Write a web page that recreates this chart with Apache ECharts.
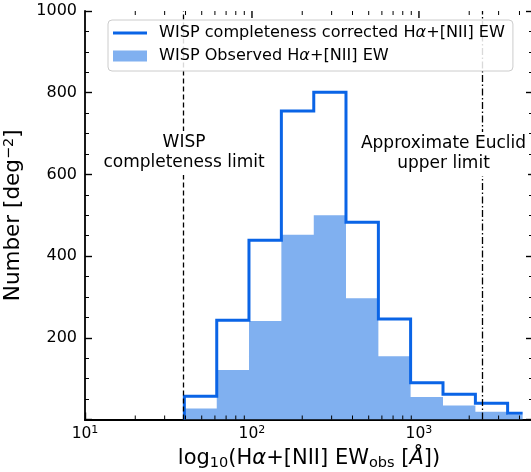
<!DOCTYPE html>
<html>
<head>
<meta charset="utf-8">
<script src="https://cdn.jsdelivr.net/npm/echarts@6/dist/echarts.min.js"></script>
<style>
  html, body { margin: 0; padding: 0; background: #fff; }
  #chart { width: 531px; height: 472px; }
</style>
</head>
<body>
<div id="chart"></div>
<script>
// ---- data (x in log10 of EW [Å]) ----
const LOG_EDGES = [1.595, 1.789, 1.982, 2.176, 2.370, 2.563, 2.757, 2.950, 3.144, 3.338, 3.531];
const LOG_END = 3.621;
const CORRECTED = [57, 243, 439, 755, 801, 483, 246, 90, 62, 40, 15];
const OBSERVED = [27, 121, 241, 452, 500, 297, 155, 55, 34, 19, 11];
const COMPLETENESS_LIMIT = 1.595;
const EUCLID_LIMIT = 3.375;
const X_MAJOR = [1, 2, 3];
const X_MIN = 1, X_MAX = 3.683;
const Y_MIN = 0, Y_MAX = 1000;
const X_MINOR = [1.301, 1.477, 1.602, 1.699, 1.778, 1.845, 1.903, 1.954,
                 2.301, 2.477, 2.602, 2.699, 2.778, 2.845, 2.903, 2.954,
                 3.301, 3.477, 3.602];
const NAME_CORR = 'WISP completeness corrected Hα+[NII] EW';
const NAME_OBS = 'WISP Observed Hα+[NII] EW';

const FONT = 'DejaVu Sans';

function stepData(vals) {
  const pts = [[LOG_EDGES[0], 0]];
  vals.forEach(function (v, i) { pts.push([LOG_EDGES[i], v]); });
  pts.push([LOG_END, vals[vals.length - 1]]);
  return pts;
}

// inward tick marks on the horizontal spines, placed through the axis scale
function tickMarks(values, yVal, len, width, inwardUp) {
  return values.map(function (v) {
    return {
      coord: [v, yVal], symbol: 'rect', symbolSize: [width, len],
      symbolOffset: [0, inwardUp ? -len / 2 : len / 2],
      itemStyle: { color: '#000' }, label: { show: false }
    };
  });
}

const chart = echarts.init(document.getElementById('chart'), null, { renderer: 'canvas' });

function yAxisDef(pos, labels) {
  const ax = {
    type: 'value', min: Y_MIN, max: Y_MAX, interval: 200, position: pos, gridIndex: 0,
    axisLine: { show: true, lineStyle: { color: '#000', width: 1.8 } },
    axisTick: { show: true, inside: true, length: 7, lineStyle: { color: '#000', width: 1.4 } },
    minorTick: { show: true, splitNumber: 4, length: 4, lineStyle: { color: '#000', width: 1 } },
    axisLabel: { show: labels, margin: 8, fontFamily: FONT, fontSize: 16, color: '#000',
      formatter: function (v) { return v === 0 ? '' : String(v); } },
    splitLine: { show: false },
    minorSplitLine: { show: false }
  };
  if (labels) {
    ax.name = 'Number [deg{sup|−2}]';
    ax.nameLocation = 'middle';
    ax.nameGap = 55;
    ax.nameTextStyle = {
      fontFamily: FONT, fontSize: 21.5, color: '#000', lineHeight: 24,
      rich: { sup: { fontFamily: FONT, fontSize: 14.5, color: '#000', lineHeight: 11, verticalAlign: 'top' } }
    };
  }
  return ax;
}

const option = {
  animation: false,
  backgroundColor: '#fff',
  grid: { left: 85, right: -2, top: 11, bottom: 52.5, containLabel: false, outerBoundsMode: 'none' },
  xAxis: [
    {
      type: 'value', min: X_MIN, max: X_MAX, position: 'bottom',
      axisLine: { show: true, lineStyle: { color: '#000', width: 1.8 } },
      axisTick: { show: true, inside: true, length: 7, customValues: X_MAJOR,
        lineStyle: { color: '#000', width: 1.4 } },
      axisLabel: {
        show: true, customValues: X_MAJOR, margin: 5,
        formatter: function (v) { return '{b|10}{s|' + Math.round(v) + '}'; },
        rich: {
          b: { fontFamily: FONT, fontSize: 15.5, color: '#000', lineHeight: 18 },
          s: { fontFamily: FONT, fontSize: 11, color: '#000', lineHeight: 8, verticalAlign: 'top' }
        }
      },
      splitLine: { show: false },
      name: 'log{sub|10}(H{it|α}+[NII] EW{sub|obs} [{it|Å}])',
      nameLocation: 'middle', nameGap: 26,
      nameTextStyle: {
        fontFamily: FONT, fontSize: 21, color: '#000', lineHeight: 24,
        rich: {
          sub: { fontFamily: FONT, fontSize: 14.5, color: '#000', lineHeight: 12, verticalAlign: 'bottom' },
          it: { fontFamily: FONT, fontSize: 21, color: '#000', fontStyle: 'italic', lineHeight: 24 }
        }
      }
    },
    {
      type: 'value', min: X_MIN, max: X_MAX, position: 'top',
      axisLine: { show: true, lineStyle: { color: '#000', width: 1.8 } },
      axisTick: { show: false }, axisLabel: { show: false }, splitLine: { show: false }
    }
  ],
  yAxis: [yAxisDef('left', true), yAxisDef('right', false)],
  legend: {
    orient: 'vertical', left: 108, top: 20,
    padding: [4, 8, 6, 5], itemGap: 5, itemWidth: 34, itemHeight: 11,
    backgroundColor: 'rgba(255,255,255,0.85)', borderColor: '#cccccc', borderWidth: 1, borderRadius: 4,
    data: [
      { name: NAME_CORR, icon: 'path://M0,0 L34,0 L34,3 L0,3 Z' },
      { name: NAME_OBS, icon: 'rect' }
    ],
    formatter: function (n) { return n.replace('α', '{it|α}'); },
    textStyle: {
      fontFamily: FONT, fontSize: 16.1, color: '#000', lineHeight: 18, padding: [0, 0, 0, 7],
      rich: { it: { fontFamily: FONT, fontSize: 16.1, fontStyle: 'italic', color: '#000' } }
    },
    z: 20
  },
  series: [
    {
      name: NAME_OBS, type: 'line', step: 'end', symbol: 'none',
      xAxisIndex: 0, yAxisIndex: 0,
      data: stepData(OBSERVED),
      color: '#80b0f0',
      itemStyle: { color: '#80b0f0' },
      lineStyle: { width: 0, color: '#80b0f0' },
      areaStyle: { color: '#80b0f0', opacity: 1 },
      z: 2
    },
    {
      name: NAME_CORR, type: 'line', step: 'end', symbol: 'none',
      xAxisIndex: 0, yAxisIndex: 0,
      data: stepData(CORRECTED),
      color: '#0a64e6',
      itemStyle: { color: '#0a64e6' },
      lineStyle: { width: 3, color: '#0a64e6', join: 'miter' },
      z: 3,
      markLine: {
        silent: true, symbol: 'none', label: { show: false }, animation: false,
        data: [
          { xAxis: COMPLETENESS_LIMIT, lineStyle: { color: '#000', width: 1.3, type: [5, 3] } },
          { xAxis: EUCLID_LIMIT, lineStyle: { color: '#000', width: 1.3, type: [7, 2.5, 1.5, 2.5] } }
        ]
      },
      markPoint: {
        silent: true, animation: false, label: { show: false },
        itemStyle: { color: '#000' },
        data: [].concat(
          tickMarks(X_MINOR, Y_MIN, 4, 1, true),
          tickMarks(X_MINOR, Y_MAX, 4, 1, false),
          tickMarks(X_MAJOR.filter(function (v) { return v > X_MIN; }), Y_MAX, 7, 1.4, false)
        )
      }
    }
  ],
  graphic: [
    {
      type: 'text', x: 184, y: 153, z: 50,
      style: { text: 'WISP\ncompleteness limit', fontFamily: FONT, fontSize: 17, lineHeight: 20,
        fill: '#000', align: 'center', verticalAlign: 'middle',
        backgroundColor: '#fff', padding: [2, 2] }
    },
    {
      type: 'text', x: 443.5, y: 154, z: 50,
      style: { text: 'Approximate Euclid\nupper limit', fontFamily: FONT, fontSize: 17, lineHeight: 20,
        fill: '#000', align: 'center', verticalAlign: 'middle',
        backgroundColor: '#fff', padding: [2, 2] }
    }
  ]
};

chart.setOption(option);
</script>
</body>
</html>
